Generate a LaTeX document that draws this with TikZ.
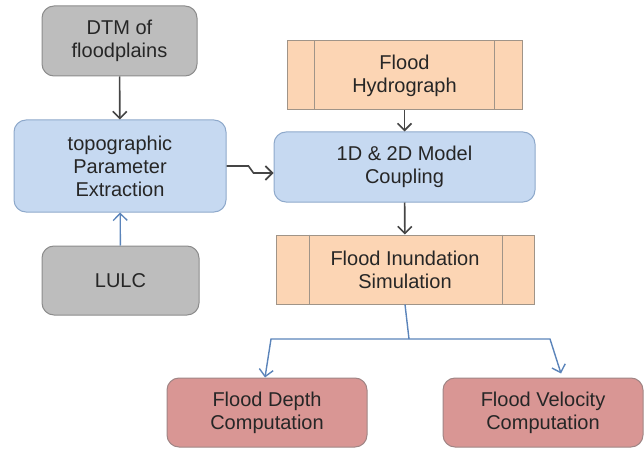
\documentclass[tikz,border=0pt]{standalone}
\usepackage{fontspec}
\setmainfont{Liberation Sans}
\usetikzlibrary{arrows.meta}

\definecolor{grayfill}{HTML}{BDBDBD}
\definecolor{grayline}{HTML}{8C8C8C}
\definecolor{bluefill}{HTML}{C6D9F1}
\definecolor{blueline}{HTML}{8EA9CB}
\definecolor{orangefill}{HTML}{FCD5B4}
\definecolor{orangeline}{HTML}{A09488}
\definecolor{redfill}{HTML}{D99694}
\definecolor{redline}{HTML}{A08585}
\definecolor{arrowblue}{HTML}{5B84BA}
\definecolor{arrowdark}{HTML}{454545}
\definecolor{textdark}{HTML}{262626}

\tikzset{
  box/.style={rounded corners=12, line width=1, align=center, text=textdark,
    font=\fontsize{20}{23}\selectfont, inner sep=0},
  graybox/.style={box, draw=grayline, fill=grayfill},
  bluebox/.style={box, draw=blueline, fill=bluefill},
  redbox/.style={box, draw=redline, fill=redfill},
  procbox/.style={box, rounded corners=0, draw=orangeline, fill=orangefill},
  darkarrow/.style={draw=arrowdark, line width=1.6, -{Straight Barb[length=7,width=14]}},
  bluearrow/.style={draw=arrowblue, line width=1.4, -{Straight Barb[length=7,width=14]}},
}

\begin{document}
\begin{tikzpicture}[x=1pt,y=1pt,yscale=-1,xscale=1]
  \useasboundingbox (0,0) rectangle (644,449);

  %Shape: left column
  \node[graybox, minimum width=155, minimum height=70] (dtm) at (119.5,41) {DTM of\\floodplains};
  \node[bluebox, minimum width=212, minimum height=92] (topo) at (120,166) {topographic\\Parameter\\Extraction};
  \node[graybox, minimum width=157, minimum height=69] (lulc) at (120.5,280.5) {LULC};

  %Shape: middle column
  \node[procbox, minimum width=235, minimum height=69] (hydro) at (404.5,75.5) {Flood\\Hydrograph};
  \draw[orangeline, line width=1] ([xshift=28]hydro.north west) -- ([xshift=28]hydro.south west);
  \draw[orangeline, line width=1] ([xshift=-28]hydro.north east) -- ([xshift=-28]hydro.south east);
  \node[bluebox, minimum width=261, minimum height=70] (coupling) at (404.5,167) {1D \& 2D Model\\Coupling};
  \node[procbox, minimum width=258, minimum height=69] (inund) at (405,269.5) {Flood Inundation\\Simulation};
  \draw[orangeline, line width=1] ([xshift=34]inund.north west) -- ([xshift=34]inund.south west);
  \draw[orangeline, line width=1] ([xshift=-32]inund.north east) -- ([xshift=-32]inund.south east);

  %Shape: outputs
  \node[redbox, minimum width=200, minimum height=69] (depth) at (267,412.5) {Flood Depth\\Computation};
  \node[redbox, minimum width=200, minimum height=69] (velocity) at (543,412.5) {Flood Velocity\\Computation};

  %Straight Lines
  \draw[darkarrow] (dtm) -- (topo);
  \draw[bluearrow] (lulc) -- (topo);
  \draw[darkarrow] (hydro) -- (coupling);
  \draw[darkarrow] (coupling) -- (inund);
  \draw[darkarrow] (topo.east) -- ++(22,0) -- ++(5,7) -- (coupling.west |- 0,173);

  %Straight Lines: split
  \coordinate (split) at (409,339);
  \coordinate (splitl) at (271,339);
  \coordinate (splitr) at (550,339);
  \draw[arrowblue, line width=1.4] (inund.south) -- (split);
  \draw[bluearrow] (split) -- (splitl) -- ([xshift=-2]depth.north);
  \draw[bluearrow] (split) -- (splitr) -- ([xshift=18,yshift=-4]velocity.north);
\end{tikzpicture}
\end{document}
